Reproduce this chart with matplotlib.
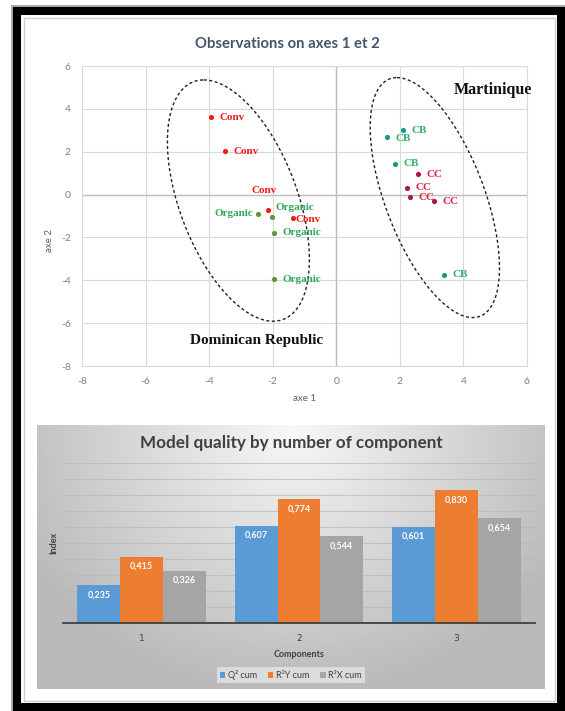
import matplotlib
matplotlib.use('Agg')
import matplotlib.pyplot as plt
import matplotlib.patches as mpatches
import numpy as np

plt.rcParams['axes.unicode_minus'] = False

# ---------------------------------------------------------------
# data
# ---------------------------------------------------------------
obs_labels = ['Conv', 'Conv', 'Conv', 'Conv',
              'Organic', 'Organic', 'Organic', 'Organic',
              'CB', 'CB', 'CB', 'CB',
              'CC', 'CC', 'CC', 'CC']
obs_x = [-3.95, -3.49, -2.15, -1.36,
         -2.45, -2.01, -1.95, -1.95,
         2.11, 1.59, 1.86, 3.39,
         2.57, 2.23, 2.33, 3.08]
obs_y = [3.60, 2.02, -0.71, -1.09,
         -0.93, -1.04, -1.78, -3.95,
         3.00, 2.70, 1.44, -3.75,
         0.98, 0.31, -0.12, -0.28]

components = ['1', '2', '3']
q2_cum = [0.235, 0.607, 0.601]
r2y_cum = [0.415, 0.774, 0.830]
r2x_cum = [0.326, 0.544, 0.654]
series_names = ['Q² cum', 'R²Y cum', 'R²X cum']

# ---------------------------------------------------------------
# styles
# ---------------------------------------------------------------
POINT_COL = {'Conv': '#F41E14', 'Organic': '#62963A', 'CB': '#17998A', 'CC': '#B4143E'}
LABEL_COL = {'Conv': '#F01818', 'Organic': '#2EA85A', 'CB': '#2EB067', 'CC': '#E0203A'}
BAR_COLS = ['#5B9BD5', '#ED7D31', '#A5A5A5']

# label offsets (points), default to the right of the marker
label_off = [(6, 0), (6, 0), (-3, 14), (2, -1),
             (-4, 1), (2, 6.5), (6, 0), (6, 0),
             (6, 0), (6, -1), (6, 0), (6, 0),
             (6, -1), (6, 0), (6, 0), (6, -1)]
label_ha = ['left', 'left', 'center', 'left',
            'right', 'left', 'left', 'left',
            'left', 'left', 'left', 'left',
            'left', 'left', 'left', 'left']

W, H = 565, 711
fig = plt.figure(figsize=(W / 100, H / 100), dpi=100)
fig.patch.set_facecolor('white')


def px_axes(l, t, r, b):
    return [l / W, (H - b) / H, (r - l) / W, (b - t) / H]


def px_rect(l, t, r, b, **kw):
    # rectangle given in pixel coords (origin top-left), drawn on the figure
    return mpatches.Rectangle((l / W, (H - b) / H), (r - l) / W, (b - t) / H,
                              transform=fig.transFigure, **kw)


# outer frame
fig.add_artist(px_rect(11, 5, 565, 711, facecolor='#A8A8A8', edgecolor='none', zorder=0))
fig.add_artist(px_rect(13, 7, 565, 711, facecolor='black', edgecolor='none', zorder=0))
fig.add_artist(px_rect(21, 15, 557, 703, facecolor='white', edgecolor='none', zorder=0))
fig.add_artist(px_rect(23.5, 17.5, 554.5, 700.5, fill=False, edgecolor='#CFCFCF',
                       lw=1.0, zorder=0))

# gradient panel behind bar chart
bg = fig.add_axes(px_axes(37, 425, 545, 689))
bg.axis('off')
gx, gy = np.meshgrid(np.linspace(37, 545, 300), np.linspace(425, 689, 160))
rr = np.sqrt(((gx - 292) / 300.0) ** 2 + ((gy - 430) / 260.0) ** 2)
rr = np.clip(rr, 0, 1)
shade = 0.97 - 0.24 * rr
bg.imshow(shade, cmap='gray', vmin=0, vmax=1, aspect='auto')

# ---------------------------------------------------------------
# scatter: observations
# ---------------------------------------------------------------
ax = fig.add_axes(px_axes(82, 66, 527, 366))
ax.set_xlim(-8, 6)
ax.set_ylim(-8, 6)
ax.set_xticks(np.arange(-8, 7, 2))
ax.set_yticks(np.arange(-8, 7, 2))
ax.grid(True, color='#DADADA', lw=0.8)
ax.set_axisbelow(True)
for s in ax.spines.values():
    s.set_color('#DADADA')
    s.set_linewidth(0.8)
ax.axhline(0, color='#BDBDBD', lw=1.0, zorder=1)
ax.axvline(0, color='#BDBDBD', lw=1.0, zorder=1)
ax.tick_params(length=0, labelsize=7.5, colors='#808080', pad=8)
ax.set_xlabel('axe 1', fontsize=7, color='#606060', family='Lato', labelpad=6)
ax.set_ylabel('axe 2', fontsize=7, color='#606060', family='Lato')
ax.yaxis.set_label_coords(-0.063, 0.42)
for lab in ax.get_xticklabels() + ax.get_yticklabels():
    lab.set_family('Lato')

for x, y, lab, off, ha in zip(obs_x, obs_y, obs_labels, label_off, label_ha):
    ax.scatter(x, y, s=14, color=POINT_COL[lab], zorder=3, linewidths=0)
    ax.annotate(lab, (x, y), xytext=off, textcoords='offset points',
                ha=ha, va='center', fontsize=8, fontweight='bold',
                family='Liberation Serif', color=LABEL_COL[lab], zorder=4)

# dashed group ellipses (center, conjugate semi-diameters)
t = np.linspace(0, 2 * np.pi, 300)
for cx, cy, ux, uy, vx in [(-3.08, -0.28, -1.09, 5.63, 1.95),
                           (3.10, -0.14, -1.19, 5.60, 1.65)]:
    ax.plot(cx + ux * np.cos(t) + vx * np.sin(t), cy + uy * np.cos(t),
            ls=(0, (2.2, 1.8)), color='#202020', lw=1.0, zorder=2)

ax.text(4.92, 4.88, 'Martinique', ha='center', va='center', fontsize=11.5,
        fontweight='bold', family='Liberation Serif', color='#111111')
ax.text(-2.52, -6.79, 'Dominican Republic', ha='center', va='center', fontsize=11,
        fontweight='bold', family='Liberation Serif', color='#111111')

fig.text(287 / W, 1 - 44 / H, 'Observations on axes 1 et 2', ha='center', va='center',
         fontsize=10.7, color='#44546A', family='Lato', fontweight='bold')

# ---------------------------------------------------------------
# bar chart: model quality
# ---------------------------------------------------------------
bx = fig.add_axes(px_axes(63, 463, 535, 623))
bx.patch.set_alpha(0)
xpos = np.arange(1, len(components) + 1)
bw = 0.272
for k, (vals, col, name) in enumerate(zip([q2_cum, r2y_cum, r2x_cum], BAR_COLS, series_names)):
    bars = bx.bar(xpos + (k - 1) * bw, vals, width=bw, color=col, label=name, zorder=3)
    for rect, v in zip(bars, vals):
        bx.annotate(f'{v:.3f}'.replace('.', ','),
                    (rect.get_x() + rect.get_width() / 2, v),
                    xytext=(0, -7), textcoords='offset points',
                    ha='center', va='center', fontsize=6.5, fontweight='bold',
                    family='Lato', color='white', zorder=4)
bx.set_xlim(0.5, 3.5)
bx.set_ylim(0, 1.0)
bx.set_yticks(np.arange(0, 1.01, 0.1))
bx.set_yticklabels([])
bx.grid(True, axis='y', color='#B8B8B8', lw=0.8, alpha=0.7, zorder=0)
bx.set_xticks(xpos)
bx.set_xticklabels(components)
bx.tick_params(length=0, labelsize=6.5, colors='#404040', pad=8)
for s in ['top', 'right', 'left']:
    bx.spines[s].set_visible(False)
bx.spines['bottom'].set_color('#404040')
bx.spines['bottom'].set_linewidth(1.3)
bx.spines['bottom'].set_zorder(5)
bx.set_xlabel('Components', fontsize=6.5, fontweight='bold', color='#404040',
              family='Lato', labelpad=5)
bx.set_ylabel('Index', fontsize=6.5, fontweight='bold', color='#404040',
              family='Lato')
bx.yaxis.set_label_coords(-0.01, 0.5)

leg = bx.legend(loc='center', bbox_to_anchor=(291 / W, 1 - 675 / H),
                bbox_transform=fig.transFigure, ncol=3, frameon=True,
                fontsize=6.5, handlelength=0.6, handleheight=0.6,
                handletextpad=0.3, columnspacing=1.2, borderpad=0.35,
                fancybox=False)
leg.get_frame().set_facecolor('#E4E4E4')
leg.get_frame().set_edgecolor('none')
for txt in leg.get_texts():
    txt.set_color('#404040')
    txt.set_family('Lato')

fig.text(291 / W, 1 - 443 / H, 'Model quality by number of component', ha='center',
         va='center', fontsize=12.3, color='#404040', family='Lato', fontweight='bold')

fig.savefig('out.png', dpi=100, facecolor='white')
